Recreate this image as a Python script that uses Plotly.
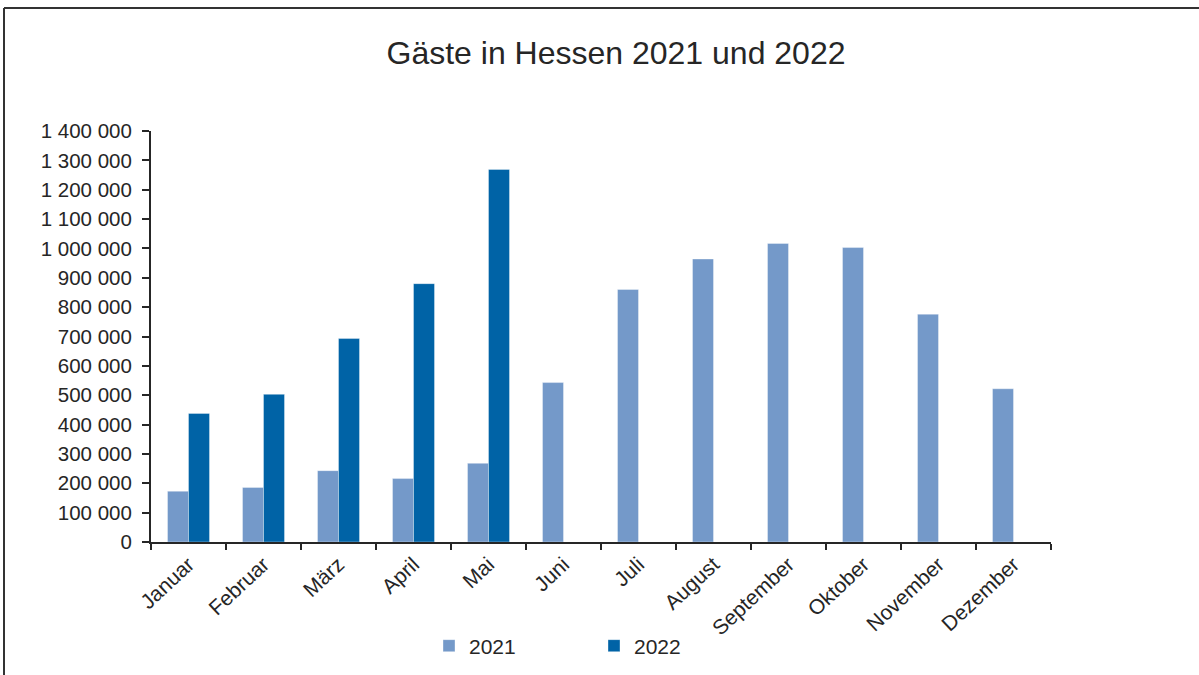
import plotly.graph_objects as go

months = ["Januar", "Februar", "März", "April", "Mai", "Juni", "Juli",
          "August", "September", "Oktober", "November", "Dezember"]
guests_2021 = [173000, 186000, 243000, 216000, 268000, 543000, 860000,
               964000, 1017000, 1003000, 776000, 522000]
guests_2022 = [438000, 503000, 693000, 880000, 1269000, None, None,
               None, None, None, None, None]
y_ticks = list(range(0, 1400001, 100000))

W, H = 1199, 675
ML, MR, MT, MB = 151, 148, 131, 133
PW, PH = W - ML - MR, H - MT - MB

def px_x(px):
    return (px - ML) / PW

def px_y(py):
    return (H - MB - py) / PH

FONT = "Liberation Sans, Arial, sans-serif"
C21 = "#7499C9"
C22 = "#0063A6"
AX = "#262626"

fig = go.Figure()
fig.add_trace(go.Bar(x=months, y=guests_2021, name="2021", marker_color=C21,
                     marker_line=dict(color="rgba(255,255,255,0.6)", width=0.6)))
fig.add_trace(go.Bar(x=months, y=guests_2022, name="2022", marker_color=C22,
                     marker_line=dict(color="rgba(255,255,255,0.6)", width=0.6)))

fig.update_layout(
    width=W, height=H,
    margin=dict(l=ML, r=MR, t=MT, b=MB, autoexpand=False),
    paper_bgcolor="white", plot_bgcolor="white",
    barmode="group", bargap=0.44, bargroupgap=0,
    separators=", ",
    font=dict(family=FONT, size=20, color=AX),
    title=dict(text="Gäste in Hessen 2021 und 2022", x=616 / W, xref="container",
               xanchor="center", y=1 - 53 / H, yref="container", yanchor="middle",
               font=dict(family=FONT, size=32, color=AX)),
    legend=dict(orientation="h", x=px_x(594), xanchor="center", y=px_y(646),
                yanchor="middle", font=dict(family=FONT, size=21, color=AX),
                itemwidth=30, entrywidth=120, bgcolor="rgba(0,0,0,0)"),
    showlegend=True,
)
fig.update_xaxes(type="category", showgrid=False, showline=True, linecolor=AX,
                 linewidth=2, ticks="outside", tickson="boundaries", ticklen=6,
                 tickwidth=2, tickcolor=AX, tickangle=-43,
                 tickfont=dict(family=FONT, size=21, color=AX))
fig.update_yaxes(range=[0, 1400000], tickvals=y_ticks, tickformat=",d",
                 showgrid=False, showline=True, linecolor=AX, linewidth=2,
                 ticks="outside", ticklen=7, tickwidth=2, tickcolor=AX,
                 ticklabelstandoff=6,
                 tickfont=dict(family=FONT, size=20.5, color=AX), zeroline=False)

# outer frame (top and left edges visible)
fig.add_shape(type="line", xref="paper", yref="paper",
              x0=px_x(4), x1=px_x(1199), y0=px_y(8), y1=px_y(8),
              line=dict(color="#333333", width=2))
fig.add_shape(type="line", xref="paper", yref="paper",
              x0=px_x(4), x1=px_x(4), y0=px_y(8), y1=px_y(675),
              line=dict(color="#333333", width=2))

fig.write_html("out.html", config={"displayModeBar": False},
               post_script="document.body.style.margin='0px';document.body.style.padding='0px';")
